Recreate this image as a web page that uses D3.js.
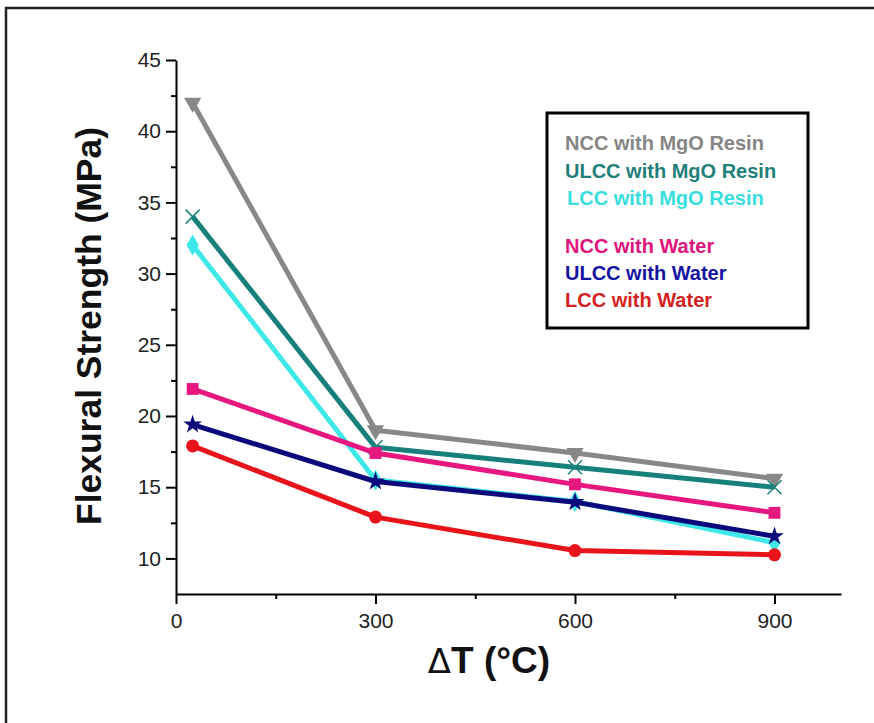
<!DOCTYPE html>
<html><head><meta charset="utf-8">
<script src="https://cdn.jsdelivr.net/npm/d3@7"></script>
<style>html,body{margin:0;padding:0;background:#fff;}svg{display:block;}</style>
</head><body>
<svg id="chart" width="874" height="723"></svg>
<script>
const xValues = [25, 300, 600, 900];
const seriesNames = ["NCC with MgO Resin","ULCC with MgO Resin","LCC with MgO Resin","NCC with Water","ULCC with Water","LCC with Water"];
const ncc_mgo  = [42.0, 19.0, 17.4, 15.6];
const ulcc_mgo = [34.0, 17.8, 16.4, 15.0];
const lcc_mgo  = [32.0, 15.5, 14.0, 11.1];
const ncc_w    = [21.9, 17.4, 15.2, 13.2];
const ulcc_w   = [19.4, 15.4, 13.95, 11.55];
const lcc_w    = [17.9, 12.9, 10.55, 10.25];
const seriesValues = [ncc_mgo, ulcc_mgo, lcc_mgo, ncc_w, ulcc_w, lcc_w];
const lineColors = ["#888888","#17807a","#3ee8e8","#e6177f","#0a0a7c","#e8131b"];
const textColors = ["#858585","#1f7f7a","#38dede","#e0157c","#1414a0","#d42222"];
const markers = ["tri","x","diamond","square","star","circle"];
const xMajor = [0, 300, 600, 900];
const xMinor = [150, 450, 750];
const yMajor = [10, 15, 20, 25, 30, 35, 40, 45];
const yMinor = [12.5, 17.5, 22.5, 27.5, 32.5, 37.5, 42.5];

const svg = d3.select("#chart");
const FONT = "Liberation Sans, Arial, sans-serif";
// outer frame
svg.append("path").attr("d","M6,723 L6,8 L874,8").attr("fill","none").attr("stroke","#222").attr("stroke-width",2.5);

const x = d3.scaleLinear().domain([0,1000]).range([176,841]);
const y = d3.scaleLinear().domain([7.5,45]).range([594,60]);

// axes
const xAxis = svg.append("g").attr("transform","translate(0,594)")
  .call(d3.axisBottom(x).tickValues(xMajor).tickSize(10).tickSizeOuter(0).tickFormat(d3.format("d")));
svg.append("g").attr("transform","translate(0,594)")
  .call(d3.axisBottom(x).tickValues(xMinor).tickSize(5).tickSizeOuter(0).tickFormat(""))
  .select(".domain").remove();
const yAxis = svg.append("g").attr("transform","translate(176,0)")
  .call(d3.axisLeft(y).tickValues(yMajor).tickSize(10).tickSizeOuter(0).tickFormat(d3.format("d")));
svg.append("g").attr("transform","translate(176,0)")
  .call(d3.axisLeft(y).tickValues(yMinor).tickSize(5).tickSizeOuter(0).tickFormat(""))
  .select(".domain").remove();
svg.selectAll(".domain").attr("stroke","#000").attr("stroke-width",2);
svg.selectAll(".tick line").attr("stroke","#000").attr("stroke-width",2);
xAxis.selectAll(".tick text").attr("font-family",FONT).attr("font-size",21).attr("fill","#222").attr("dy","1.0em");
yAxis.selectAll(".tick text").attr("font-family",FONT).attr("font-size",21).attr("fill","#222").attr("x",-15);

// axis titles
svg.append("text").attr("transform","translate(101,326) rotate(-90)")
  .attr("text-anchor","middle").attr("font-family",FONT)
  .attr("font-weight","bold").attr("font-size",35).attr("fill","#111")
  .attr("textLength",398).attr("lengthAdjust","spacingAndGlyphs")
  .text("Flexural Strength (MPa)");
svg.append("text").attr("x",489).attr("y",673)
  .attr("text-anchor","middle").attr("font-family",FONT)
  .attr("font-size",37).attr("fill","#111")
  .call(t=>{ t.append("tspan").attr("font-weight","normal").attr("font-family","DejaVu Sans, sans-serif").attr("font-size",34).text("Δ");
             t.append("tspan").attr("font-weight","bold").text("T (°C)"); });

// lines
const line = d3.line().x((d,i)=>x(xValues[i])).y(d=>y(d));
seriesValues.forEach((vals,k)=>{
  const g = svg.append("g");
  g.append("path").attr("d",line(vals)).attr("fill","none").attr("stroke",lineColors[k]).attr("stroke-width",5).attr("stroke-linejoin","round");
  vals.forEach((v,i)=>{
    const cx = x(xValues[i]), cy = y(v);
    const m = markers[k];
    if (m==="tri") g.append("path").attr("d",d3.symbol(d3.symbolTriangle,130)()).attr("transform",`translate(${cx},${cy}) rotate(180)`).attr("fill",lineColors[k]);
    else if (m==="x") g.append("path").attr("d",`M-7,-7L7,7M-7,7L7,-7`).attr("transform",`translate(${cx},${cy})`).attr("stroke",lineColors[k]).attr("stroke-width",1.5);
    else if (m==="diamond") g.append("path").attr("d",d3.symbol(d3.symbolDiamond,130)()).attr("transform",`translate(${cx},${cy})`).attr("fill",lineColors[k]);
    else if (m==="square") g.append("path").attr("d",d3.symbol(d3.symbolSquare,140)()).attr("transform",`translate(${cx},${cy})`).attr("fill",lineColors[k]);
    else if (m==="star") g.append("path").attr("d",d3.symbol(d3.symbolStar,110)()).attr("transform",`translate(${cx},${cy})`).attr("fill",lineColors[k]);
    else g.append("circle").attr("cx",cx).attr("cy",cy).attr("r",6.5).attr("fill",lineColors[k]);
  });
});

// legend
svg.append("rect").attr("x",547).attr("y",113).attr("width",261).attr("height",215).attr("fill","#fff").attr("stroke","#000").attr("stroke-width",3);
const legY = [150, 178, 205, 253, 280, 307];
seriesNames.forEach((n,k)=>{
  svg.append("text").attr("x", k===2?567:565).attr("y",legY[k]).attr("font-family",FONT)
    .attr("font-weight","bold").attr("font-size",20).attr("fill",textColors[k]).text(n);
});
</script>
</body></html>
